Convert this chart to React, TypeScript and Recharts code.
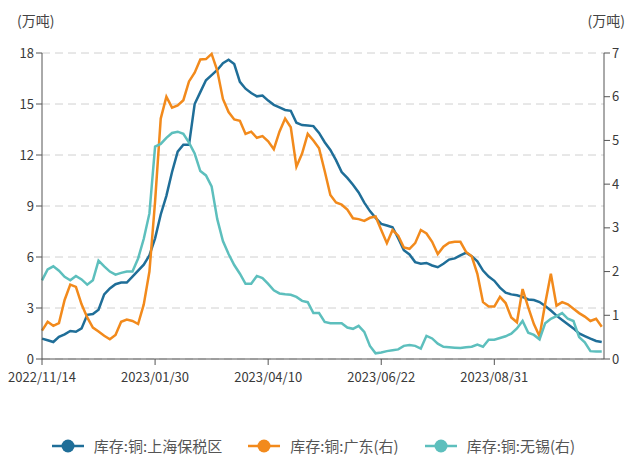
import React from 'react';
import { LineChart, Line, XAxis, YAxis, CartesianGrid } from 'recharts';

const TICK_LABELS = ['2022/11/14', '2023/01/30', '2023/04/10', '2023/06/22', '2023/08/31'];
const LEFT_TICKS = [0, 3, 6, 9, 12, 15, 18];
const RIGHT_TICKS = [0, 1, 2, 3, 4, 5, 6, 7];

// 库存:铜:上海保税区 (left axis)
const SHANGHAI = [
  1.2, 1.1, 1.0, 1.3, 1.45, 1.65, 1.6, 1.8, 2.6, 2.65,
  2.9, 3.8, 4.15, 4.4, 4.5, 4.5, 4.85, 5.2, 5.55, 6.1,
  7.1, 8.5, 9.6, 11.0, 12.2, 12.6, 12.6, 15.0, 15.7, 16.4,
  16.7, 17.0, 17.4, 17.6, 17.35, 16.3, 15.9, 15.65, 15.45, 15.5,
  15.2, 14.95, 14.8, 14.65, 14.6, 13.9, 13.76, 13.74, 13.7, 13.3,
  12.75, 12.3, 11.7, 11.0, 10.65, 10.25, 9.8, 9.2, 8.7, 8.3,
  7.95, 7.85, 7.75, 7.1, 6.4, 6.15, 5.7, 5.6, 5.65, 5.5,
  5.4, 5.6, 5.85, 5.92, 6.1, 6.25, 6.05, 5.75, 5.2, 4.85,
  4.6, 4.2, 3.9, 3.8, 3.75, 3.65, 3.5, 3.47, 3.35, 3.12,
  2.85, 2.55, 2.3, 2.05, 1.8, 1.5, 1.35, 1.2, 1.06, 1.0,
];

// 库存:铜:广东 (right axis)
const GUANGDONG = [
  0.65, 0.85, 0.76, 0.82, 1.35, 1.7, 1.65, 1.25, 0.95, 0.72,
  0.63, 0.53, 0.45, 0.55, 0.85, 0.9, 0.87, 0.8, 1.25, 2.0,
  3.6, 5.5, 6.0, 5.75, 5.8, 5.92, 6.35, 6.55, 6.85, 6.86,
  6.98, 6.6, 5.95, 5.65, 5.48, 5.45, 5.15, 5.2, 5.06, 5.1,
  4.98, 4.8, 5.2, 5.5, 5.3, 4.4, 4.7, 5.15, 5.0, 4.82,
  4.3, 3.75, 3.58, 3.53, 3.42, 3.22, 3.2, 3.16, 3.23, 3.26,
  2.95, 2.65, 2.95, 2.82, 2.55, 2.52, 2.65, 2.95, 2.87, 2.68,
  2.4, 2.57, 2.66, 2.68, 2.68, 2.45, 2.35, 1.95, 1.3, 1.2,
  1.2, 1.42, 1.28, 0.95, 0.84, 1.6, 1.18, 0.8, 0.52, 1.27,
  1.95, 1.22, 1.3, 1.25, 1.15, 1.05, 0.97, 0.87, 0.92, 0.74,
];

// 库存:铜:无锡 (right axis)
const WUXI = [
  1.8, 2.05, 2.12, 2.02, 1.88, 1.8, 1.9, 1.82, 1.7, 1.8,
  2.25, 2.12, 2.0, 1.93, 1.97, 2.0, 2.0, 2.3, 2.75, 3.33,
  4.86, 4.92, 5.06, 5.17, 5.2, 5.15, 4.95, 4.7, 4.3, 4.2,
  3.95, 3.2, 2.7, 2.4, 2.15, 1.95, 1.72, 1.72, 1.9, 1.85,
  1.72, 1.57, 1.5, 1.48, 1.47, 1.42, 1.33, 1.3, 1.05, 1.05,
  0.85, 0.82, 0.82, 0.82, 0.72, 0.69, 0.76, 0.62, 0.3, 0.13,
  0.15, 0.18, 0.2, 0.22, 0.3, 0.32, 0.3, 0.24, 0.53, 0.47,
  0.35, 0.28, 0.27, 0.26, 0.25, 0.27, 0.28, 0.33, 0.28, 0.44,
  0.44, 0.48, 0.52, 0.58, 0.7, 0.87, 0.6, 0.55, 0.45, 0.82,
  0.92, 0.98, 1.05, 0.92, 0.87, 0.5, 0.38, 0.18, 0.17, 0.17,
];

const SERIES = [
  { key: 'shanghai', name: '库存:铜:上海保税区', color: '#1f6e98', axis: 'left' },
  { key: 'guangdong', name: '库存:铜:广东(右)', color: '#f28a1c', axis: 'right' },
  { key: 'wuxi', name: '库存:铜:无锡(右)', color: '#5dbfbd', axis: 'right' },
];

const data = SHANGHAI.map((v, i) => ({
  i,
  shanghai: v,
  guangdong: GUANGDONG[i],
  wuxi: WUXI[i],
}));

const FONT = '"Noto Sans CJK SC", "Noto Sans", sans-serif';
const tickStyle = { fontSize: 13, fill: '#3a3a3a', fontFamily: FONT };

export default function App() {
  return (
    <div style={{ position: 'relative', width: 627, height: 457, background: '#fff', fontFamily: FONT }}>
      <style>{'body{margin:0}'}</style>
      <div style={{ position: 'absolute', left: 17, top: 10, fontSize: 14, color: '#444' }}>(万吨)</div>
      <div style={{ position: 'absolute', right: 2, top: 10, fontSize: 14, color: '#444' }}>(万吨)</div>
      <LineChart width={627} height={400} data={data} margin={{ top: 53, right: 0, bottom: 0, left: 12 }}>
        <CartesianGrid yAxisId="left" vertical={false} stroke="#d0d0d0" strokeDasharray="8 5" />
        <XAxis
          dataKey="i"
          type="number"
          domain={[0, 99.4]}
          ticks={[0, 20, 40, 60, 80]}
          tickFormatter={(v: number) => TICK_LABELS[v / 20]}
          height={41}
          stroke="#555"
          tick={tickStyle}
          tickSize={6}
          tickMargin={8}
        />
        <YAxis
          yAxisId="left"
          domain={[0, 18]}
          ticks={LEFT_TICKS}
          width={30}
          stroke="#555"
          tick={tickStyle}
          tickSize={6}
        />
        <YAxis
          yAxisId="right"
          orientation="right"
          domain={[0, 7]}
          ticks={RIGHT_TICKS}
          width={23}
          stroke="#555"
          tick={tickStyle}
          tickSize={6}
        />
        {SERIES.map((s) => (
          <Line
            key={s.key}
            yAxisId={s.axis}
            dataKey={s.key}
            name={s.name}
            type="linear"
            stroke={s.color}
            strokeWidth={2.5}
            dot={false}
            isAnimationActive={false}
          />
        ))}
      </LineChart>
      <div
        style={{
          position: 'absolute',
          top: 435,
          left: 0,
          width: 627,
          display: 'flex',
          justifyContent: 'center',
          gap: 26,
          fontSize: 15,
          color: '#555',
        }}
      >
        {SERIES.map((s) => (
          <div key={s.key} style={{ display: 'flex', alignItems: 'center' }}>
            <svg width={32} height={14} style={{ marginRight: 10 }}>
              <line x1={0} y1={7} x2={32} y2={7} stroke={s.color} strokeWidth={2.5} />
              <circle cx={16} cy={7} r={6.5} fill={s.color} />
            </svg>
            <span style={{ lineHeight: '22px' }}>{s.name}</span>
          </div>
        ))}
      </div>
    </div>
  );
}
